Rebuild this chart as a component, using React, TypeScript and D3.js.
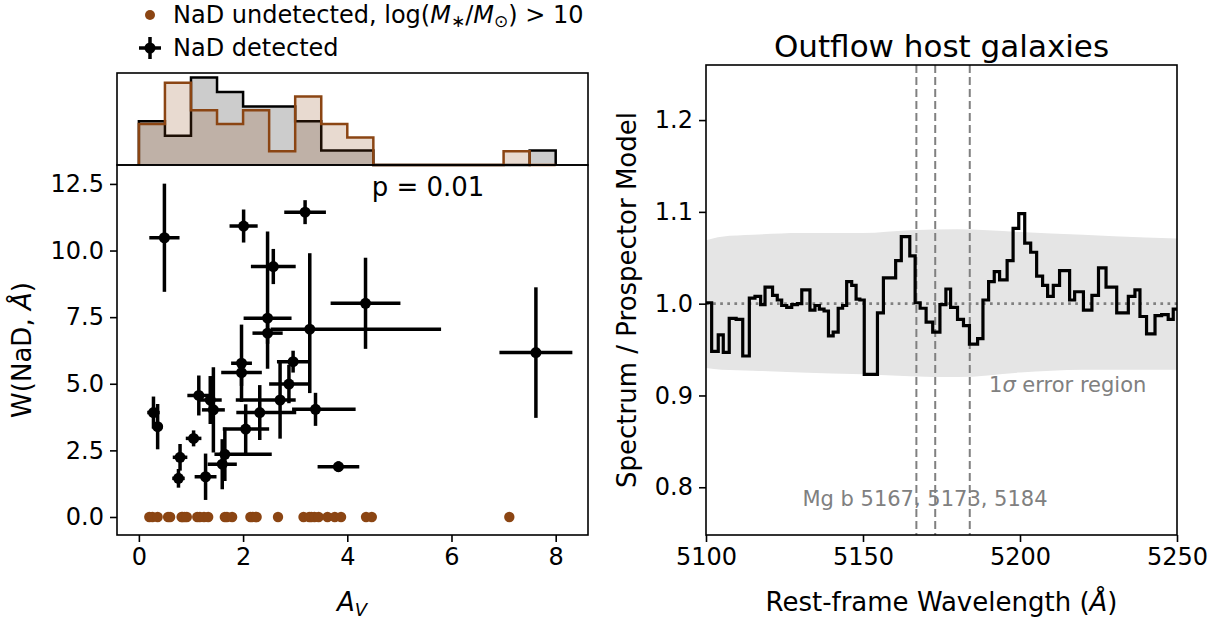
import { useEffect, useRef } from "react";
import * as d3 from "d3";

// NaD detected sample (A_V, W(NaD)) with asymmetric errors
const avDet = [0.49, 2.01, 3.19, 2.58, 4.35, 2.47, 2.47, 3.28, 7.62, 2.96, 1.97, 1.97, 2.88, 2.71, 3.39, 2.32, 2.05, 1.65, 1.6, 1.28, 0.76, 0.79, 1.05, 0.28, 0.36, 1.15, 1.37, 1.43, 3.83];
const avErrLo = [0.29, 0.27, 0.4, 0.43, 0.67, 0.46, 0.29, 0.75, 0.7, 0.31, 0.2, 0.39, 0.38, 0.85, 0.45, 0.45, 0.44, 0.2, 0.28, 0.21, 0.12, 0.14, 0.15, 0.12, 0.1, 0.22, 0.22, 0.22, 0.4];
const avErrHi = [0.29, 0.27, 0.4, 0.43, 0.67, 0.46, 0.29, 2.52, 0.7, 0.31, 0.2, 0.39, 0.38, 0.3, 0.77, 0.7, 0.45, 0.9, 0.28, 0.21, 0.12, 0.14, 0.15, 0.12, 0.1, 0.22, 0.22, 0.22, 0.4];
const wDet = [10.48, 10.92, 11.44, 9.4, 8.02, 7.46, 6.9, 7.05, 6.17, 5.83, 5.77, 5.42, 4.99, 4.39, 4.04, 3.92, 3.3, 2.35, 1.98, 1.51, 1.45, 2.24, 2.95, 3.92, 3.39, 4.56, 4.39, 4.02, 1.89];
const wErrLo = [2.03, 0.62, 0.45, 0.66, 1.71, 1.9, 0.4, 2.4, 2.45, 0.41, 1.45, 0.5, 0.72, 1.45, 0.62, 1.03, 0.93, 1.0, 0.94, 0.87, 0.35, 0.5, 0.3, 0.6, 0.85, 0.75, 0.9, 1.6, 0.2];
const wErrHi = [2.03, 0.62, 0.45, 0.66, 1.71, 3.25, 0.4, 2.85, 2.45, 0.41, 1.45, 0.5, 0.72, 1.45, 0.62, 1.03, 0.93, 1.0, 0.94, 0.87, 0.35, 0.5, 0.3, 0.6, 0.85, 0.75, 0.9, 1.6, 0.2];

// NaD undetected, high mass: A_V only (W = 0)
const avUndet = [0.2, 0.26, 0.36, 0.56, 0.6, 0.82, 0.84, 0.88, 0.92, 1.12, 1.17, 1.25, 1.33, 1.65, 1.69, 1.79, 2.14, 2.18, 2.24, 2.26, 2.67, 3.16, 3.27, 3.31, 3.37, 3.45, 3.62, 3.76, 3.88, 4.36, 4.47, 7.11];

// top histogram (counts per 0.5 mag bin)
const histEdges = [0, 0.5, 1, 1.5, 2, 2.5, 3, 3.5, 4, 4.5, 5, 5.5, 6, 6.5, 7, 7.5, 8];
const histDetected = [3, 2, 6, 5, 4, 4, 3, 1, 1, 0, 0, 0, 0, 0, 0, 1];
const histUndetected = [3, 6, 4, 3, 4, 1, 5, 3, 2, 0, 0, 0, 0, 0, 1, 0];

// stacked spectrum / model ratio
const specWave = [5100.0, 5101.8, 5103.9, 5105.5, 5107.4, 5109.6, 5111.7, 5113.8, 5115.6, 5117.4, 5118.8, 5121.2, 5122.7, 5124.1, 5125.7, 5127.3, 5129.1, 5130.5, 5133.1, 5134.7, 5136.1, 5137.6, 5139.0, 5140.5, 5142.1, 5143.5, 5144.8, 5146.4, 5147.8, 5149.0, 5150.4, 5154.6, 5156.5, 5160.4, 5162.2, 5164.9, 5166.6, 5168.2, 5170.1, 5172.2, 5174.5, 5176.4, 5177.9, 5180.1, 5182.0, 5183.9, 5186.5, 5188.2, 5190.0, 5191.8, 5193.5, 5195.9, 5197.8, 5199.6, 5201.5, 5203.4, 5205.3, 5207.2, 5208.8, 5210.6, 5212.6, 5215.8, 5217.4, 5220.2, 5222.9, 5225.0, 5227.4, 5230.8, 5234.5, 5236.6, 5238.2, 5240.3, 5243.0, 5245.1, 5247.2, 5248.8, 5250.0];
const specFlux = [1.001, 0.948, 0.966, 0.947, 0.984, 0.983, 0.943, 1.006, 1.008, 0.999, 1.018, 1.009, 1.004, 0.998, 0.996, 0.999, 1.0, 1.015, 0.993, 0.998, 0.994, 0.992, 0.965, 0.969, 0.995, 0.998, 1.024, 1.02, 1.005, 1.004, 0.923, 0.99, 1.028, 1.047, 1.073, 1.052, 1.001, 0.995, 0.98, 0.969, 0.999, 1.016, 0.996, 0.983, 0.976, 0.956, 0.962, 1.004, 1.024, 1.035, 1.026, 1.047, 1.082, 1.098, 1.066, 1.056, 1.03, 1.02, 1.008, 1.02, 1.036, 1.004, 1.013, 0.993, 1.009, 1.039, 1.018, 0.99, 1.008, 1.015, 0.986, 0.967, 0.987, 0.988, 0.983, 0.994, 0.994];

// 1 sigma band
const errWave = [5100, 5105, 5115, 5130, 5150, 5165, 5180, 5200, 5220, 5240, 5250];
const errHigh = [1.069, 1.073, 1.075, 1.077, 1.077, 1.08, 1.081, 1.078, 1.075, 1.072, 1.071];
const errLow = [0.93, 0.928, 0.927, 0.925, 0.923, 0.921, 0.92, 0.925, 0.928, 0.928, 0.928];

const mgLines = [5167, 5173, 5184];

const leftXTicks = [0, 2, 4, 6, 8];
const leftYTicks = [0, 2.5, 5, 7.5, 10, 12.5];
const rightXTicks = [5100, 5150, 5200, 5250];
const rightYTicks = [0.8, 0.9, 1.0, 1.1, 1.2];

const FONT = "DejaVu Sans, sans-serif";
const BROWN = "#8b4513";
const GRAY = "#808080";

export default function App() {
  const ref = useRef<SVGSVGElement>(null);

  useEffect(() => {
    const svg = d3.select(ref.current);
    svg.selectAll("*").remove();
    svg.attr("font-family", FONT);

    // ---------- left panel ----------
    const L = { left: 117, right: 588, top: 165, bottom: 535, histTop: 73 };
    const x = d3.scaleLinear().domain([-0.42, 8.62]).range([L.left, L.right]);
    const y = d3.scaleLinear().domain([-0.676, 13.21]).range([L.bottom, L.top]);

    // histogram (density)
    const nDet = d3.sum(histDetected);
    const nUnd = d3.sum(histUndetected);
    const densDet = histDetected.map((c, i) => c / (nDet * (histEdges[i + 1] - histEdges[i])));
    const densUnd = histUndetected.map((c, i) => c / (nUnd * (histEdges[i + 1] - histEdges[i])));
    const hy = d3.scaleLinear().domain([0, 0.42]).range([L.top, L.histTop]);

    const hist = svg.append("g");
    const drawHist = (dens: number[], fill: string, fillOpacity: number, stroke: string) => {
      const pts: [number, number][] = histEdges.map((e, i) => [e, dens[Math.min(i, dens.length - 1)]]);
      const area = d3
        .area<[number, number]>()
        .x((d) => x(d[0]))
        .y0(hy(0))
        .y1((d) => hy(d[1]))
        .curve(d3.curveStepAfter);
      hist.append("path").attr("d", area(pts)).attr("fill", fill).attr("fill-opacity", fillOpacity);
      const outline: [number, number][] = [[histEdges[0], 0], ...pts, [histEdges[histEdges.length - 1], 0]];
      const line = d3
        .line<[number, number]>()
        .x((d) => x(d[0]))
        .y((d) => hy(d[1]))
        .curve(d3.curveStepAfter);
      hist
        .append("path")
        .attr("d", line(outline))
        .attr("fill", "none")
        .attr("stroke", stroke)
        .attr("stroke-width", 2.5);
    };
    drawHist(densDet, "#cccccc", 1, "black");
    drawHist(densUnd, BROWN, 0.2, BROWN);

    hist
      .append("rect")
      .attr("x", L.left)
      .attr("y", L.histTop)
      .attr("width", L.right - L.left)
      .attr("height", L.top - L.histTop)
      .attr("fill", "none")
      .attr("stroke", "black")
      .attr("stroke-width", 1.6);

    // scatter with error bars
    const sc = svg.append("g");
    avDet.forEach((av, i) => {
      const w = wDet[i];
      sc.append("line")
        .attr("x1", x(av - avErrLo[i]))
        .attr("x2", x(av + avErrHi[i]))
        .attr("y1", y(w))
        .attr("y2", y(w))
        .attr("stroke", "black")
        .attr("stroke-width", 3.5);
      sc.append("line")
        .attr("x1", x(av))
        .attr("x2", x(av))
        .attr("y1", y(w - wErrLo[i]))
        .attr("y2", y(w + wErrHi[i]))
        .attr("stroke", "black")
        .attr("stroke-width", 3.5);
    });
    avDet.forEach((av, i) => {
      sc.append("circle").attr("cx", x(av)).attr("cy", y(wDet[i])).attr("r", 5.5).attr("fill", "black");
    });
    avUndet.forEach((av) => {
      sc.append("circle").attr("cx", x(av)).attr("cy", y(0)).attr("r", 5.2).attr("fill", BROWN);
    });

    const axL = svg.append("g");
    axL
      .append("g")
      .attr("transform", `translate(0,${L.bottom})`)
      .call(d3.axisBottom(x).tickValues(leftXTicks).tickFormat(d3.format("d")).tickSize(7).tickPadding(6));
    axL
      .append("g")
      .attr("transform", `translate(${L.left},0)`)
      .call(d3.axisLeft(y).tickValues(leftYTicks).tickFormat(d3.format(".1f")).tickSize(7).tickPadding(6));
    axL.selectAll(".domain").remove();
    axL.selectAll(".tick line").attr("stroke", "black").attr("stroke-width", 1.6);
    axL.selectAll(".tick text").attr("font-size", 24).attr("font-family", FONT).attr("fill", "black");
    axL
      .append("rect")
      .attr("x", L.left)
      .attr("y", L.top)
      .attr("width", L.right - L.left)
      .attr("height", L.bottom - L.top)
      .attr("fill", "none")
      .attr("stroke", "black")
      .attr("stroke-width", 1.6);

    svg
      .append("text")
      .attr("x", 428)
      .attr("y", 196)
      .attr("text-anchor", "middle")
      .attr("font-size", 26)
      .text("p = 0.01");

    // x label A_V
    const xl = svg.append("text").attr("x", 352).attr("y", 611).attr("text-anchor", "middle").attr("font-size", 26);
    xl.append("tspan").attr("font-style", "italic").text("A");
    xl.append("tspan").attr("font-style", "italic").attr("font-size", 18).attr("dy", 5).text("V");

    const yl = svg
      .append("text")
      .attr("transform", `translate(31,${(L.top + L.bottom) / 2}) rotate(-90)`)
      .attr("text-anchor", "middle")
      .attr("font-size", 26);
    yl.append("tspan").text("W(NaD, ");
    yl.append("tspan").attr("font-style", "italic").text("Å");
    yl.append("tspan").text(")");

    // legend
    const lg = svg.append("g");
    lg.append("circle").attr("cx", 150).attr("cy", 15).attr("r", 5).attr("fill", BROWN);
    const t1 = lg.append("text").attr("x", 173).attr("y", 23).attr("font-size", 24);
    t1.append("tspan").text("NaD undetected, log(");
    t1.append("tspan").attr("font-style", "italic").text("M");
    t1.append("tspan").attr("font-size", 17).attr("dy", 4).text("∗");
    t1.append("tspan").attr("dy", -4).text("/");
    t1.append("tspan").attr("font-style", "italic").text("M");
    t1.append("tspan").attr("font-size", 17).attr("dy", 4).text("⊙");
    t1.append("tspan").attr("dy", -4).text(") > 10");
    lg.append("line").attr("x1", 139).attr("x2", 161).attr("y1", 48).attr("y2", 48).attr("stroke", "black").attr("stroke-width", 3.5);
    lg.append("line").attr("x1", 150).attr("x2", 150).attr("y1", 37).attr("y2", 59).attr("stroke", "black").attr("stroke-width", 3.5);
    lg.append("circle").attr("cx", 150).attr("cy", 48).attr("r", 5.5).attr("fill", "black");
    lg.append("text").attr("x", 173).attr("y", 56).attr("font-size", 24).text("NaD detected");

    // ---------- right panel ----------
    const R = { left: 706, right: 1177, top: 65, bottom: 535 };
    const xs = d3.scaleLinear().domain([5100, 5250]).range([R.left, R.right]);
    const ys = d3.scaleLinear().domain([0.748, 1.26]).range([R.bottom, R.top]);

    const rp = svg.append("g");
    const band = d3
      .area<number>()
      .x((d) => xs(d))
      .y0((_, i) => ys(errLow[i]))
      .y1((_, i) => ys(errHigh[i]))
      .curve(d3.curveMonotoneX);
    rp.append("path").attr("d", band(errWave)).attr("fill", "#e5e5e5");

    rp.append("line")
      .attr("x1", R.left)
      .attr("x2", R.right)
      .attr("y1", ys(1))
      .attr("y2", ys(1))
      .attr("stroke", GRAY)
      .attr("stroke-width", 2.7)
      .attr("stroke-dasharray", "2.7,4.4");

    mgLines.forEach((m) => {
      rp.append("line")
        .attr("x1", xs(m))
        .attr("x2", xs(m))
        .attr("y1", R.top)
        .attr("y2", R.bottom)
        .attr("stroke", GRAY)
        .attr("stroke-width", 2)
        .attr("stroke-dasharray", "8,4");
    });

    const spec = d3
      .line<number>()
      .x((d) => xs(d))
      .y((_, i) => ys(specFlux[i]))
      .curve(d3.curveStepAfter);
    rp.append("path")
      .attr("d", spec(specWave))
      .attr("fill", "none")
      .attr("stroke", "black")
      .attr("stroke-width", 3.2)
      .attr("stroke-linejoin", "miter");

    rp.append("text")
      .attr("x", 925)
      .attr("y", 506)
      .attr("text-anchor", "middle")
      .attr("font-size", 21)
      .attr("fill", GRAY)
      .text("Mg b 5167, 5173, 5184");
    const sig = rp.append("text").attr("x", 989).attr("y", 392).attr("font-size", 21).attr("fill", GRAY);
    sig.append("tspan").text("1");
    sig.append("tspan").attr("font-style", "italic").text("σ");
    sig.append("tspan").text(" error region");

    const axR = svg.append("g");
    axR
      .append("g")
      .attr("transform", `translate(0,${R.bottom})`)
      .call(d3.axisBottom(xs).tickValues(rightXTicks).tickFormat(d3.format("d")).tickSize(7).tickPadding(6));
    axR
      .append("g")
      .attr("transform", `translate(${R.left},0)`)
      .call(d3.axisLeft(ys).tickValues(rightYTicks).tickFormat(d3.format(".1f")).tickSize(7).tickPadding(6));
    axR.selectAll(".domain").remove();
    axR.selectAll(".tick line").attr("stroke", "black").attr("stroke-width", 1.6);
    axR.selectAll(".tick text").attr("font-size", 24).attr("font-family", FONT).attr("fill", "black");
    axR
      .append("rect")
      .attr("x", R.left)
      .attr("y", R.top)
      .attr("width", R.right - R.left)
      .attr("height", R.bottom - R.top)
      .attr("fill", "none")
      .attr("stroke", "black")
      .attr("stroke-width", 1.6);

    svg
      .append("text")
      .attr("x", (R.left + R.right) / 2)
      .attr("y", 57)
      .attr("text-anchor", "middle")
      .attr("font-size", 31)
      .text("Outflow host galaxies");

    const rxl = svg
      .append("text")
      .attr("x", (R.left + R.right) / 2)
      .attr("y", 611)
      .attr("text-anchor", "middle")
      .attr("font-size", 26);
    rxl.append("tspan").text("Rest-frame Wavelength (");
    rxl.append("tspan").attr("font-style", "italic").text("Å");
    rxl.append("tspan").text(")");

    svg
      .append("text")
      .attr("transform", `translate(636,${(R.top + R.bottom) / 2}) rotate(-90)`)
      .attr("text-anchor", "middle")
      .attr("font-size", 26)
      .text("Spectrum / Prospector Model");
  }, []);

  return (
    <svg
      ref={ref}
      width={1225}
      height={625}
      style={{ position: "absolute", left: 0, top: 0, background: "white" }}
    />
  );
}
